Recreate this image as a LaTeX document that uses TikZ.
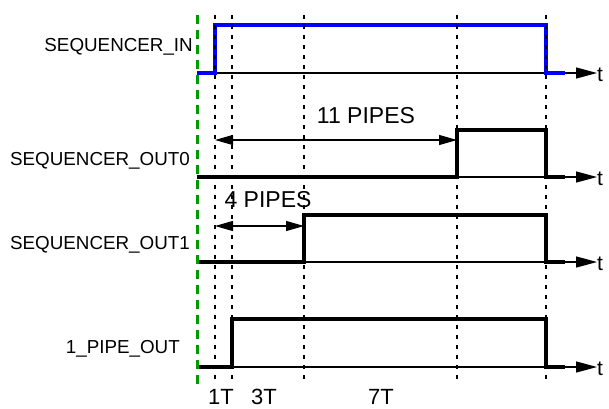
\documentclass[tikz,border=0pt]{standalone}
\usepackage{fontspec}
\setmainfont{Liberation Sans}
\usetikzlibrary{arrows.meta,positioning}
\definecolor{seqblue}{HTML}{0000FF}
\definecolor{seqgreen}{HTML}{009A00}
\tikzset{
  guide/.style={draw=black, line width=1.2pt, dash pattern=on 4pt off 6pt},
  refline/.style={draw=seqgreen, line width=3pt, dash pattern=on 9pt off 6pt},
  axis/.style={draw=black, line width=1.3pt, -{Triangle[length=21pt,width=11pt]}},
  wave/.style={draw=black, line width=4pt, line join=miter},
  span/.style={draw=black, line width=1.2pt,
               {Triangle[length=18pt,width=10pt]}-{Triangle[length=18pt,width=10pt]}},
  signame/.style={anchor=east, inner sep=0pt, font=\fontsize{18.8}{20}\selectfont},
  tname/.style={anchor=west, inner sep=0pt, font=\fontsize{21}{23}\selectfont},
  spanlabel/.style={inner sep=0pt, font=\fontsize{23}{25}\selectfont},
  ticklabel/.style={anchor=base, inner sep=0pt, font=\fontsize{22}{24}\selectfont},
}

\begin{document}
\begin{tikzpicture}[x=1pt, y=-1pt]
\useasboundingbox (0,0) rectangle (609,408);

% signal names
\node[signame] (nin)   at (193,47)  {SEQUENCER\_IN};
\node[signame] (nout0) at (190,161) {SEQUENCER\_OUT0};
\node[signame] (nout1) at (190,245) {SEQUENCER\_OUT1};
\node[signame] (npipe) at (180,349) {1\_PIPE\_OUT};

% time axes
\coordinate (ain)   at (197,73);
\coordinate (aout0) at (197,177);
\coordinate (aout1) at (197,262);
\coordinate (apipe) at (197,367);
\node[tname] (tin)   at (597,75)  {t};
\node[tname] (tout0) at (597,179) {t};
\node[tname] (tout1) at (597,264) {t};
\node[tname] (tpipe) at (597,369) {t};
\draw[axis] (ain)   -- (ain -| tin.west);
\draw[axis] (aout0) -- (aout0 -| tout0.west);
\draw[axis] (aout1) -- (aout1 -| tout1.west);
\draw[axis] (apipe) -- (apipe -| tpipe.west);

% waveforms
\draw[wave, draw=seqblue] (197,73) -- (215,73) -- (215,25) -- (546,25) -- (546,73) -- (565,73);
\draw[wave] (197,177) -- (457,177) -- (457,130) -- (546,130) -- (546,177) -- (565,177);
\draw[wave] (197,262) -- (304,262) -- (304,215) -- (546,215) -- (546,262) -- (565,262);
\draw[wave] (197,367) -- (232,367) -- (232,319) -- (546,319) -- (546,367) -- (565,367);

% timing guides
\foreach \x in {215,232,304,457,546}
  \draw[guide] (\x,15) -- (\x,381);
\draw[refline] (197,15) -- (197,385);

% pipe spans
\coordinate (s11a) at (215,140);
\coordinate (s11b) at (457,140);
\coordinate (s4a)  at (215,226);
\coordinate (s4b)  at (304,226);
\draw[span] (s11a) -- (s11b);
\draw[span] (s4a) -- (s4b);
\node[spanlabel] (l11) at (366,116) {11 PIPES};
\node[spanlabel] (l4)  at (268,200) {4 PIPES};

% step counts
\node[ticklabel] (c1) at (221,404) {1T};
\node[ticklabel] (c3) at (264,404) {3T};
\node[ticklabel] (c7) at (381,404) {7T};
\end{tikzpicture}
\end{document}
